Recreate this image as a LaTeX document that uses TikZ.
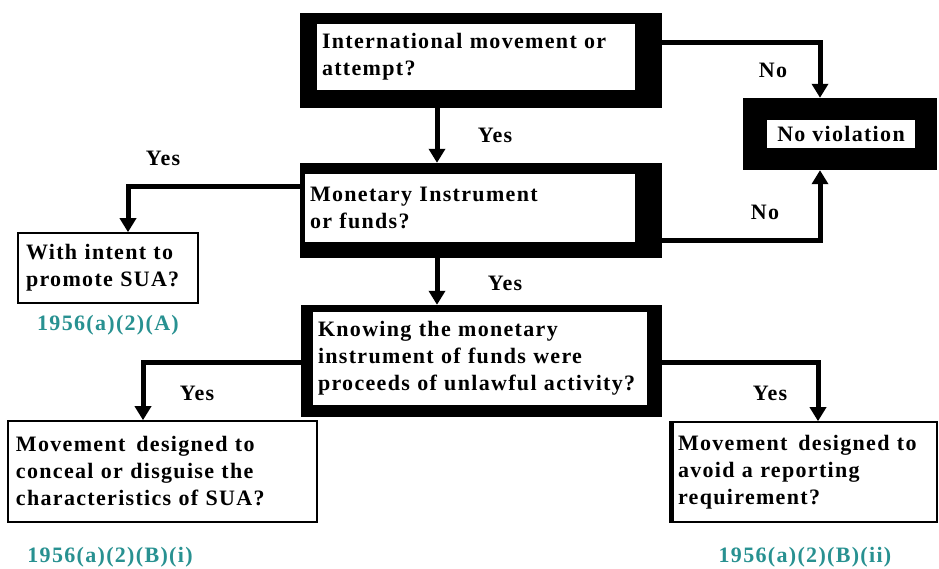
\documentclass[tikz,border=0pt]{standalone}
\usepackage{fontspec}
\setmainfont{Liberation Serif}[LetterSpace=6]
\usetikzlibrary{arrows.meta}
\definecolor{codeteal}{RGB}{40,145,145}
\begin{document}
\begin{tikzpicture}[x=1pt,y=-1pt,
  txt/.style={font=\fontsize{22}{27}\selectfont\bfseries},
  frame/.style={fill=black, rectangle, inner sep=0pt},
  qtext/.style={txt, fill=white, rectangle, inner ysep=0pt, inner xsep=5pt, align=left},
  thinbox/.style={txt, draw=black, line width=1.6pt, fill=white, rectangle, inner ysep=0pt, inner xsep=8pt, align=left},
  conn/.style={line width=5pt, -{Triangle[width=16pt,length=14pt]}},
  lbl/.style={txt, inner sep=0pt},
  code/.style={font=\fontsize{22}{24}\selectfont\bfseries, text=codeteal, inner sep=0pt}]
\useasboundingbox (0,0) rectangle (939,569);
\fill[white] (0,0) rectangle (939,569);

% decision boxes with heavy frames
\node[frame, minimum width=362pt, minimum height=95pt] (b1) at (481,60.5) {};
\node[qtext, minimum width=318pt, minimum height=66pt, text width=308pt] (b1t) at (476,57)
  {International movement or\\attempt?};

\node[frame, minimum width=362pt, minimum height=95pt] (b2) at (481,210.5) {};
\node[qtext, minimum width=330pt, minimum height=68pt, text width=320pt] (b2t) at (470,208)
  {Monetary Instrument\\or funds?};

\node[frame, minimum width=361pt, minimum height=112pt] (b3) at (481.5,361) {};
\node[qtext, minimum width=334pt, minimum height=93pt, text width=324pt] (b3t) at (480,358.5)
  {Knowing the monetary\\instrument of funds were\\proceeds of unlawful activity?};

\node[frame, minimum width=194pt, minimum height=72pt] (nv) at (840,134) {};
\node[qtext, minimum width=148pt, minimum height=28pt, align=center, inner xsep=0pt] (nvt) at (841,134)
  {No violation};

% outcome boxes with thin borders
\node[thinbox, minimum width=180pt, minimum height=70pt, text width=164pt] (intent) at (108,268)
  {With intent to\\promote SUA?};
\node[thinbox, minimum width=309pt, minimum height=101pt, text width=293pt] (b4) at (162.5,471.5)
  {Movement\, designed to\\conceal or disguise the\\characteristics of SUA?};
\node[thinbox, minimum width=267pt, minimum height=100pt, text width=251pt] (b5) at (803.5,472)
  {Movement\, designed to\\avoid a reporting\\requirement?};
\draw[line width=5pt] ([xshift=2pt]b5.north west) -- ([xshift=2pt]b5.south west);

% connectors
\draw[conn] ([yshift=17.5pt]b1.east) -| ([xshift=-20pt]nv.north);
\draw[conn] ([xshift=-44pt]b1.south) -- ([xshift=-44pt]b2.north);
\draw[conn] ([yshift=23.5pt]b2.west) -| ([xshift=20pt]intent.north);
\draw[conn] ([yshift=-30.5pt]b2.east) -| ([xshift=-20pt]nv.south);
\draw[conn] ([xshift=-44pt]b2.south) -- ([xshift=-44.5pt]b3.north);
\draw[conn] ([yshift=-1pt]b3.west) -| ([xshift=-19.5pt]b4.north);
\draw[conn] ([yshift=-1pt]b3.east) -| ([xshift=14.5pt]b5.north);

% branch labels
\node[lbl] (no1) at (773,70) {No};
\node[lbl] (no2) at (765,212) {No};
\node[lbl] (y1) at (495,135) {Yes};
\node[lbl] (y2) at (163,158) {Yes};
\node[lbl] (y3) at (505,283) {Yes};
\node[lbl] (y4) at (197,393) {Yes};
\node[lbl] (y5) at (770,393) {Yes};

% statute references
\node[code] (c1) at (108,325) {1956(a)(2)(A)};
\node[code] (c2) at (110,557) {1956(a)(2)(B)(i)};
\node[code] (c3) at (805,557) {1956(a)(2)(B)(ii)};
\end{tikzpicture}
\end{document}
